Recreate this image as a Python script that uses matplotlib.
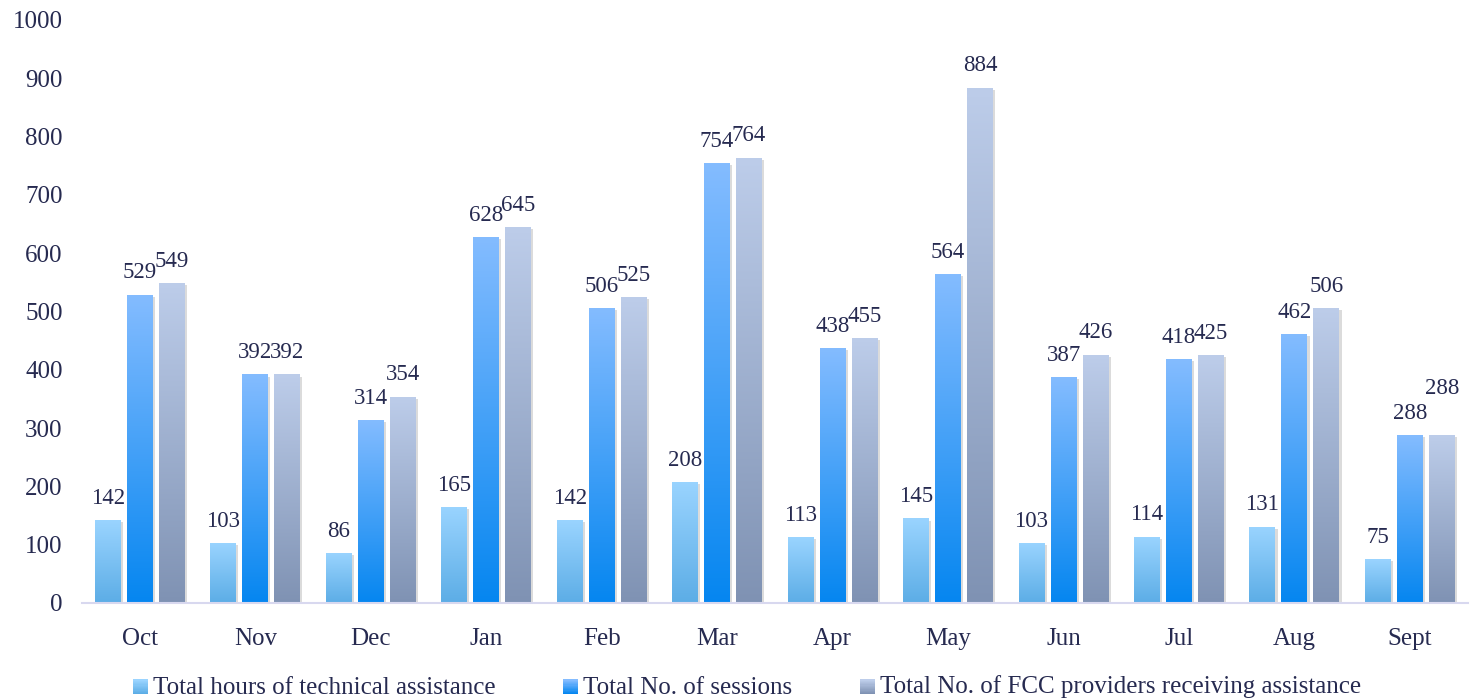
import numpy as np
import matplotlib
matplotlib.use("Agg")
import matplotlib.pyplot as plt
import matplotlib.patheffects as pe
from matplotlib.colors import LinearSegmentedColormap
from matplotlib.patches import Patch, Rectangle
from matplotlib.legend_handler import HandlerBase

months = ["Oct", "Nov", "Dec", "Jan", "Feb", "Mar", "Apr", "May", "Jun", "Jul", "Aug", "Sept"]
hours = [142, 103, 86, 165, 142, 208, 113, 145, 103, 114, 131, 75]
sessions = [529, 392, 314, 628, 506, 754, 438, 564, 387, 418, 462, 288]
providers = [549, 392, 354, 645, 525, 764, 455, 884, 426, 425, 506, 288]

series_names = [
    "Total hours of technical assistance",
    "Total No. of sessions",
    "Total No. of FCC providers receiving assistance",
]
# top colour, bottom colour for each series
gradients = [
    ("#9ad4ff", "#5cade6"),
    ("#84bcff", "#0586f0"),
    ("#bdcdea", "#7f92b3"),
]
text_color = "#262a50"
# extra lift (points) for the label that the original pushes up to avoid a clash
label_lift = {(2, 11): 18}


class GradientHandler(HandlerBase):
    # legend square drawn as a stack of thin strips
    def create_artists(self, legend, orig, xd, yd, w, h, fontsize, trans):
        top, bottom = orig.grad
        cmap = LinearSegmentedColormap.from_list("h", [bottom, top])
        n = 12
        side = min(w, h)
        arts = []
        for k in range(n):
            r = Rectangle((xd + w - side, yd + k * side / n), side, side / n + 0.2,
                          facecolor=cmap(k / (n - 1)), edgecolor="none", transform=trans)
            arts.append(r)
        return arts


plt.rcParams["font.family"] = ["Liberation Serif"]
fig = plt.figure(figsize=(14.78, 7.0), dpi=100)
ax = fig.add_axes([0.0555, 0.1386, 0.9375, 0.8329])

x = np.arange(len(months))
width = 0.225
step = 0.277

for i, (vals, (top, bottom)) in enumerate(zip([hours, sessions, providers], gradients)):
    cmap = LinearSegmentedColormap.from_list(f"g{i}", [bottom, top])
    grad = np.linspace(0, 1, 256).reshape(-1, 1)
    bars = ax.bar(x + (i - 1) * step, vals, width, color="white", zorder=2,
                  path_effects=[pe.SimplePatchShadow(offset=(1.5, -1.5), shadow_rgbFace="#888888", alpha=0.3),
                                pe.Normal()])
    for j, (b, v) in enumerate(zip(bars, vals)):
        x0 = b.get_x()
        im = ax.imshow(grad, cmap=cmap, origin="lower", aspect="auto",
                       extent=(x0, x0 + width, 0, v), zorder=3)
        im.set_clip_path(b)
        ax.annotate(str(v), (x0 + width / 2, v), xytext=(0, 8 + label_lift.get((i, j), 0)),
                    textcoords="offset points", ha="center", va="bottom",
                    fontsize=16.5, color=text_color, zorder=4)

ax.set_xlim(-0.5, len(months) - 0.5)
ax.set_ylim(0, 1000)
ax.set_yticks(np.arange(0, 1001, 100))
ax.set_xticks(x)
ax.set_xticklabels(months)
ax.tick_params(axis="both", length=0, labelsize=18, colors=text_color)
ax.tick_params(axis="x", pad=18)
ax.tick_params(axis="y", pad=14)
for s in ["top", "right", "left"]:
    ax.spines[s].set_visible(False)
ax.spines["bottom"].set_color("#d8d8ef")
ax.spines["bottom"].set_linewidth(1.5)
ax.spines["bottom"].set_zorder(5)

handles = []
for g, n in zip(gradients, series_names):
    p = Patch(facecolor=g[1], label=n)
    p.grad = g
    handles.append(p)
fig.legend(handles=handles, loc="lower center", ncol=3, frameon=False, fontsize=18,
           labelcolor=text_color, handlelength=0.6, handleheight=0.6, handletextpad=0.2,
           columnspacing=2.7, bbox_to_anchor=(0.5055, -0.03),
           handler_map={Patch: GradientHandler()})

fig.savefig("out.png", dpi=100)
